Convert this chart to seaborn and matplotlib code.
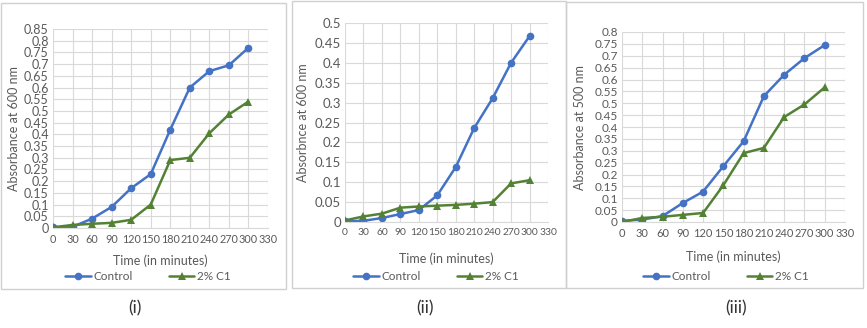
import matplotlib
matplotlib.use("Agg")
import matplotlib.pyplot as plt
import seaborn as sns
import pandas as pd
from matplotlib.patches import Rectangle
from matplotlib.lines import Line2D

# ---------------- data ----------------
time_min = [0, 30, 60, 90, 120, 150, 180, 210, 240, 270, 300]

control_i = [0.003, 0.005, 0.04, 0.09, 0.17, 0.23, 0.42, 0.60, 0.67, 0.695, 0.77]
c1_i = [0.003, 0.013, 0.018, 0.022, 0.035, 0.10, 0.29, 0.30, 0.405, 0.485, 0.54]

control_ii = [0.002, 0.003, 0.010, 0.020, 0.030, 0.067, 0.138, 0.236, 0.311, 0.400, 0.467]
c1_ii = [0.004, 0.014, 0.021, 0.036, 0.039, 0.041, 0.043, 0.046, 0.050, 0.097, 0.105]

control_iii = [0.005, 0.010, 0.025, 0.080, 0.128, 0.235, 0.340, 0.530, 0.620, 0.690, 0.745]
c1_iii = [0.000, 0.017, 0.022, 0.030, 0.038, 0.155, 0.290, 0.312, 0.442, 0.495, 0.567]

series_names = ["Control", "2% C1"]
panel_labels = ["(i)", "(ii)", "(iii)"]
y_labels = ["Absorbance at 600 nm", "Absorbnce at 600 nm", "Absorbance at 500 nm"]
y_max = [0.85, 0.5, 0.8]
x_ticks = [0, 30, 60, 90, 120, 150, 180, 210, 240, 270, 300, 330]

# ---------------- style ----------------
sns.set_style("white")
plt.rcParams["font.family"] = ["Lato", "DejaVu Sans"]

W, H = 867, 328
fig = plt.figure(figsize=(W / 100, H / 100), dpi=100)

BLUE = "#4472C4"
GREEN = "#548235"
GRID = "#D9D9D9"
TXT = "#595959"

def fx(px):
    return px / W

def fy(py):
    return 1 - py / H

# axes rects in pixels: left, right, top, bottom
axes_px = [(53, 268, 29, 228), (345, 548, 23, 222), (622, 845, 32, 222)]
frames_px = [(1, 286, 3, 289), (292, 566, 1, 288), (566, 863, 2, 288)]
ylabel_x = [14, 303, 580]
xlabel_y = [261, 259, 257]
legend_cx = [148, 436, 726]
legend_y = 277
panel_cx = [135, 425, 736]
ytick_fs = [9, 9.5, 8.5]
xtick_fs = [7.8, 7.4, 8]

datasets = [(control_i, c1_i), (control_ii, c1_ii), (control_iii, c1_iii)]

for k in range(3):
    l, r, t, b = axes_px[k]
    ax = fig.add_axes([fx(l), fy(b), fx(r - l), (b - t) / H])
    ctrl, c1 = datasets[k]
    df = pd.DataFrame({
        "time": time_min * 2,
        "abs": ctrl + c1,
        "series": [series_names[0]] * len(time_min) + [series_names[1]] * len(time_min),
    })
    sns.lineplot(data=df, x="time", y="abs", hue="series", style="series",
                 palette=[BLUE, GREEN], markers=["o", "^"], dashes=False,
                 markersize=5.5, linewidth=1.8, markeredgewidth=0,
                 ax=ax, legend=False)
    ax.set_xlim(0, 330)
    ax.set_ylim(0, y_max[k])
    ax.set_xticks(x_ticks)
    yt = [round(0.05 * i, 2) for i in range(int(round(y_max[k] / 0.05)) + 1)]
    ax.set_yticks(yt)
    ax.set_yticklabels([("%g" % v) for v in yt])
    ax.grid(True, color=GRID, linewidth=0.8)
    ax.set_axisbelow(True)
    for s in ["top", "right", "left"]:
        ax.spines[s].set_visible(False)
    ax.spines["bottom"].set_color(GRID)
    ax.spines["bottom"].set_linewidth(0.8)
    ax.tick_params(axis="y", length=0, labelsize=ytick_fs[k], colors=TXT, pad=3)
    ax.tick_params(axis="x", length=0, labelsize=xtick_fs[k], colors=TXT, pad=4)
    ax.set_xlabel("")
    ax.set_ylabel("")

    # texts
    fig.text(fx(ylabel_x[k]), fy((t + b) / 2), y_labels[k], rotation=90,
             ha="center", va="center", fontsize=9, color=TXT)
    fig.text(fx((l + r) / 2), fy(xlabel_y[k]), "Time (in minutes)",
             ha="center", va="center", fontsize=9, color=TXT)
    handles = [
        Line2D([], [], color=BLUE, marker="o", markersize=5.5, linewidth=1.8, markeredgewidth=0),
        Line2D([], [], color=GREEN, marker="^", markersize=5.5, linewidth=1.8, markeredgewidth=0),
    ]
    leg = fig.legend(handles, series_names, loc="center",
                     bbox_to_anchor=(fx(legend_cx[k]), fy(legend_y)),
                     ncol=2, frameon=False, fontsize=8.5, handlelength=2.2,
                     handletextpad=0.2, columnspacing=3.0)
    for txt in leg.get_texts():
        txt.set_color(TXT)
    fig.text(fx(panel_cx[k]), fy(308), panel_labels[k], ha="center", va="center",
             fontsize=12.5, color="#333333")

    # panel frame
    fl, fr, ft, fb = frames_px[k]
    fig.patches.append(Rectangle((fx(fl), fy(fb)), fx(fr - fl), (fb - ft) / H,
                                 transform=fig.transFigure, fill=False,
                                 edgecolor="#D0D0D0", linewidth=1.0, zorder=0))

fig.savefig("out.png", dpi=100, facecolor="white")
